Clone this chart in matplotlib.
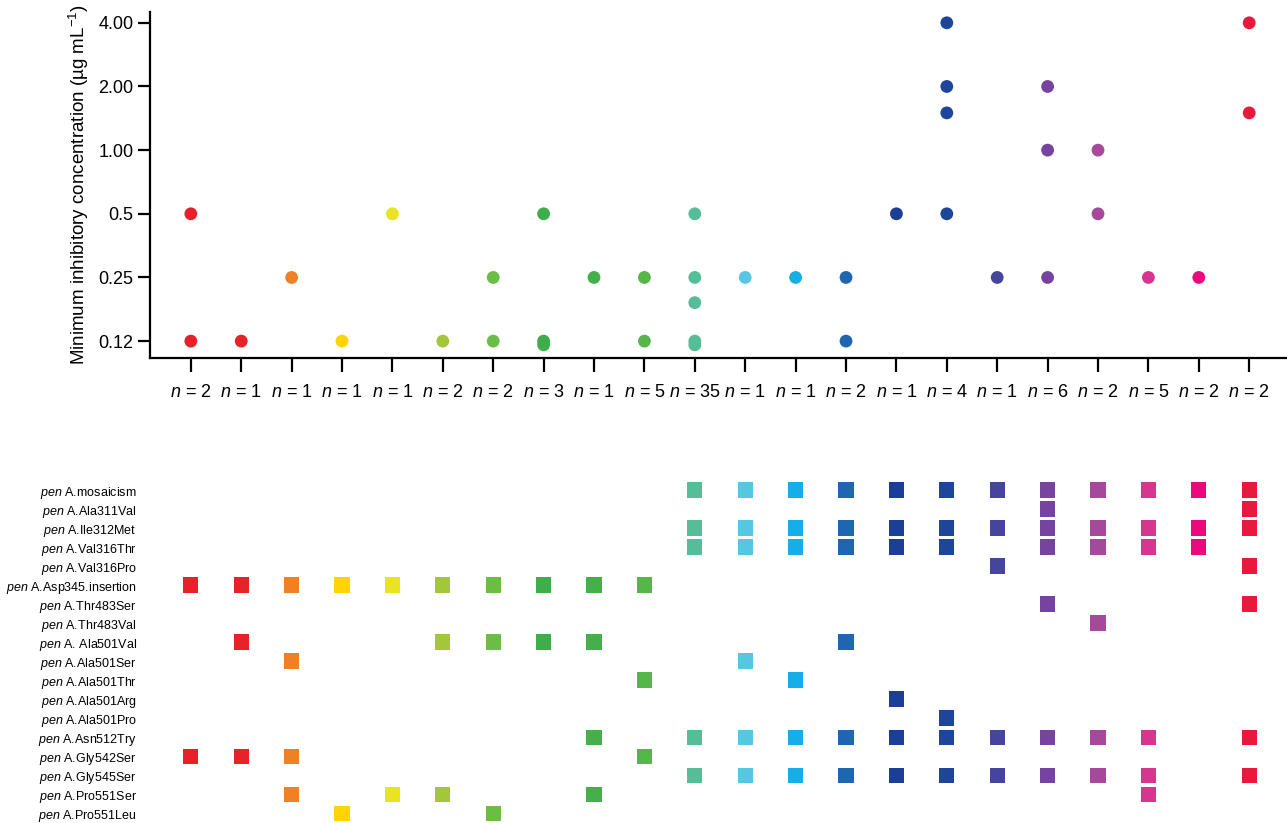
import matplotlib
matplotlib.use('Agg')
import matplotlib.pyplot as plt
import numpy as np

plt.rcParams['font.family'] = ['Liberation Sans', 'DejaVu Sans']
plt.rcParams['mathtext.fontset'] = 'custom'
plt.rcParams['mathtext.rm'] = 'Liberation Sans'
plt.rcParams['mathtext.it'] = 'Liberation Sans:italic'

# isolate groups (columns) and their sizes
counts = [2, 1, 1, 1, 1, 2, 2, 3, 1, 5, 35, 1, 1, 2, 1, 4, 1, 6, 2, 5, 2, 2]
colors = ['#E8202A', '#E52329', '#F08024', '#FFD400', '#E8E41F', '#A3C63B',
          '#6ABD45', '#3DAE4A', '#43B04A', '#55B74A', '#55BD98', '#56C6E2',
          '#16AEE6', '#1E67B0', '#1C3F96', '#1D4599', '#46459B', '#7644A0',
          '#A7489C', '#D7358F', '#EB0A7E', '#E8193D']

# MIC values per column (ug/mL)
mic = [
    [0.5, 0.125],
    [0.125],
    [0.25],
    [0.125],
    [0.5],
    [0.125],
    [0.25, 0.125],
    [0.5, 0.125, 0.12],
    [0.25],
    [0.25, 0.125],
    [0.5, 0.25, 0.19, 0.125, 0.12],
    [0.25],
    [0.25],
    [0.25, 0.125],
    [0.5],
    [4.0, 2.0, 1.5, 0.5],
    [0.25],
    [2.0, 1.0, 0.25],
    [1.0, 0.5],
    [0.25],
    [0.25],
    [4.0, 1.5],
]

mic_ticks = [0.125, 0.25, 0.5, 1.0, 2.0, 4.0]
mic_labels = ['0.12', '0.25', '0.5', '1.00', '2.00', '4.00']

mutations = ['mosaicism', 'Ala311Val', 'Ile312Met', 'Val316Thr', 'Val316Pro',
             'Asp345.insertion', 'Thr483Ser', 'Thr483Val', ' Ala501Val',
             'Ala501Ser', 'Ala501Thr', 'Ala501Arg', 'Ala501Pro', 'Asn512Try',
             'Gly542Ser', 'Gly545Ser', 'Pro551Ser', 'Pro551Leu']

# which mutations (row indices) each column carries
present = [
    [5, 14],
    [5, 8, 14],
    [5, 9, 14, 16],
    [5, 17],
    [5, 16],
    [5, 8, 16],
    [5, 8, 17],
    [5, 8],
    [5, 8, 13, 16],
    [5, 10, 14],
    [0, 2, 3, 13, 15],
    [0, 2, 3, 9, 13, 15],
    [0, 2, 3, 10, 13, 15],
    [0, 2, 3, 8, 13, 15],
    [0, 2, 3, 11, 13, 15],
    [0, 2, 3, 12, 13, 15],
    [0, 2, 4, 13, 15],
    [0, 1, 2, 3, 6, 13, 15],
    [0, 2, 3, 7, 13, 15],
    [0, 2, 3, 13, 15, 16],
    [0, 2, 3],
    [0, 1, 2, 4, 6, 13, 15],
]

W, H = 1287, 823
fig = plt.figure(figsize=(W / 100, H / 100), dpi=100)

xs = np.arange(1, len(counts) + 1)
xlim = (0.19, 22.75)

# top panel: MIC scatter
ax = fig.add_axes([150 / W, 1 - 358 / H, (W - 150) / W, (358 - 12) / H])
for x, vals, c in zip(xs, mic, colors):
    ax.scatter([x] * len(vals), vals, s=85, color=c, edgecolors='none', zorder=3)
ax.set_yscale('log', base=2)
ax.set_ylim(0.104, 4.5)
ax.set_xlim(*xlim)
ax.set_yticks(mic_ticks)
ax.set_yticklabels(mic_labels)
ax.yaxis.set_minor_locator(matplotlib.ticker.NullLocator())
ax.set_xticks(xs)
ax.set_xticklabels(['$n$ = %d' % n for n in counts])
for s in ['top', 'right']:
    ax.spines[s].set_visible(False)
for s in ['left', 'bottom']:
    ax.spines[s].set_linewidth(1.6)
ax.tick_params(axis='y', length=9, width=1.6, labelsize=13, pad=3)
ax.tick_params(axis='x', length=10, width=1.6, labelsize=13, pad=9)
ax.set_ylabel('Minimum inhibitory concentration (µg mL$^{-1}$)', fontsize=13.5, labelpad=5)

# bottom panel: mutation matrix
ax2 = fig.add_axes([150 / W, 0, (W - 150) / W, (823 - 480) / H])
for x, rows, c in zip(xs, present, colors):
    ax2.scatter([x] * len(rows), rows, marker='s', s=120, color=c,
                edgecolors='none')
ax2.set_xlim(*xlim)
ax2.set_ylim(17.52, -0.53)
ax2.set_yticks(range(len(mutations)))
ax2.set_yticklabels(['$\\it{pen}$ A.' + m for m in mutations])
ax2.tick_params(axis='y', length=0, labelsize=9, pad=9.5)
ax2.set_xticks([])
for s in ax2.spines.values():
    s.set_visible(False)

fig.savefig('out.png', dpi=100)
